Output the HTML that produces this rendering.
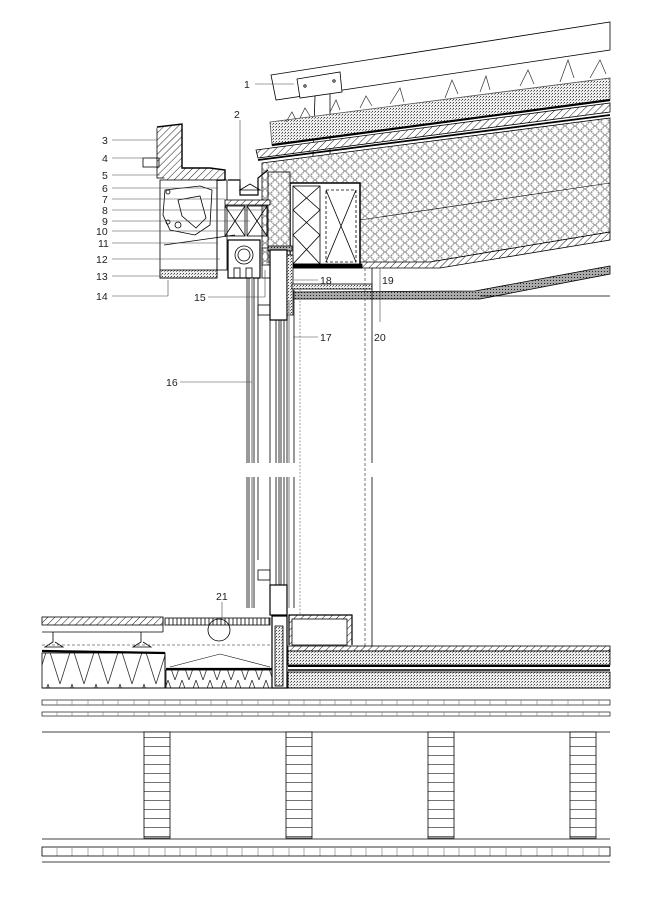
<!DOCTYPE html>
<html><head><meta charset="utf-8"><style>
html,body{margin:0;padding:0;background:#fff}
svg{display:block}
text{font-family:"Liberation Sans",sans-serif;font-size:10.5px;fill:#222}
</style></head><body>
<svg width="651" height="900" viewBox="0 0 651 900" xmlns="http://www.w3.org/2000/svg">
<defs>
<pattern id="h" width="5" height="5" patternUnits="userSpaceOnUse" patternTransform="rotate(45)"><rect width="5" height="5" fill="#fff"/><line x1="0" y1="0" x2="0" y2="5" stroke="#000" stroke-width="0.9"/></pattern>
<pattern id="d" width="3" height="3" patternUnits="userSpaceOnUse"><rect width="3" height="3" fill="#eee"/><rect x="0" y="0" width="1" height="1" fill="#444"/><rect x="2" y="1" width="1" height="1" fill="#888"/></pattern>
<pattern id="dd" width="3" height="3" patternUnits="userSpaceOnUse"><rect width="3" height="3" fill="#aaa"/><rect x="1" y="1" width="1" height="1" fill="#222"/></pattern>
<pattern id="hex" width="10" height="9" patternUnits="userSpaceOnUse"><rect width="10" height="9" fill="#fff"/><circle cx="5" cy="4.5" r="4" fill="none" stroke="#777" stroke-width="0.5"/><circle cx="0" cy="0" r="4" fill="none" stroke="#777" stroke-width="0.5"/><circle cx="10" cy="0" r="4" fill="none" stroke="#777" stroke-width="0.5"/><circle cx="0" cy="9" r="4" fill="none" stroke="#777" stroke-width="0.5"/><circle cx="10" cy="9" r="4" fill="none" stroke="#777" stroke-width="0.5"/></pattern>
<pattern id="zig" width="24" height="38" patternUnits="userSpaceOnUse"><rect width="24" height="38" fill="#fff"/><polyline points="0,0 12,38 24,0" fill="none" stroke="#333" stroke-width="0.8"/></pattern>
<pattern id="zig2" width="14" height="20" patternUnits="userSpaceOnUse"><rect width="14" height="20" fill="#fff"/><polyline points="0,0 7,20 14,0" fill="none" stroke="#333" stroke-width="0.8"/></pattern>
<pattern id="grate" width="4" height="8" patternUnits="userSpaceOnUse"><rect width="4" height="8" fill="#fff"/><line x1="1" y1="0" x2="1" y2="8" stroke="#333" stroke-width="1"/></pattern>
<pattern id="brick" width="27" height="9" patternUnits="userSpaceOnUse"><rect width="27" height="9" fill="#fff"/><line x1="0" y1="8.5" x2="27" y2="8.5" stroke="#444" stroke-width="0.8"/></pattern>
</defs>
<g fill="none" stroke="#000" stroke-width="0.8">
<polygon points="271,75 610,22 610,50 276,100" fill="#fff"/>
<polygon points="297,79 340,72 342,92 300,98" fill="#fff"/>
<circle cx="305" cy="86" r="1.2"/><circle cx="334" cy="81" r="1.2"/>
<line x1="315" y1="96" x2="312" y2="185"/><line x1="330" y1="94" x2="330" y2="185"/>
<polygon points="270,122 610,78 610,100 272,145" fill="url(#d)" stroke="#555"/>
<line x1="272" y1="145" x2="610" y2="100" stroke-width="2.2"/>
<g stroke="#333" stroke-width="0.7">
<polyline points="286,122 292,112 296,120"/><polyline points="300,118 305,108 310,116"/><polyline points="330,112 336,100 340,110"/>
<polyline points="360,108 366,96 372,106"/><polyline points="390,104 400,88 404,102"/><polyline points="445,98 452,80 458,94"/>
<polyline points="480,92 486,76 490,90"/><polyline points="520,86 528,70 534,84"/><polyline points="560,82 568,60 574,78"/><polyline points="590,78 600,60 606,74"/>
</g>
<polygon points="256,150 610,103 610,112 258,158" fill="url(#h)"/>
<line x1="258" y1="160" x2="610" y2="115" stroke-width="1.8"/>
<polygon points="262,163 610,118 610,232 430,262 290,265 262,265" fill="url(#hex)"/>
<polygon points="430,262 610,232 610,240 440,268 292,268 292,262" fill="url(#h)"/>
<line x1="360" y1="220" x2="610" y2="183" stroke-width="0.6"/>
<polygon points="292,292 475,291 610,266 610,274 480,299 292,299" fill="url(#dd)"/>
<line x1="480" y1="296" x2="610" y2="296"/>
<rect x="290" y="183" width="70" height="84" fill="#fff" stroke-width="1.5"/>
<rect x="293" y="186" width="27" height="78" fill="#fff"/>
<polyline points="293,186 320,210 293,235 320,264"/><polyline points="320,186 293,210 320,235 293,264"/>
<rect x="326" y="190" width="30" height="72" stroke-dasharray="3,2"/>
<line x1="326" y1="190" x2="356" y2="262"/><line x1="356" y1="190" x2="326" y2="262"/>
<rect x="290" y="264" width="72" height="4" fill="#000"/>
<rect x="268" y="172" width="22" height="90" fill="url(#hex)"/>
<rect x="157" y="128" width="8" height="50" fill="url(#h)"/>
<rect x="166" y="126" width="12" height="52" fill="url(#d)"/>
<polyline points="157,127 182,124 182,168 210,168 225,170 225,180 165,182" fill="url(#h)" stroke-width="1.4"/>
<rect x="143" y="158" width="16" height="9"/>
<rect x="160" y="180" width="57" height="98" fill="#fff"/>
<path d="M165,190 L200,186 L212,190 L210,225 L195,235 L170,230 L163,215 Z" />
<path d="M178,200 L200,196 L206,218 L196,228 L182,216 Z"/>
<circle cx="168" cy="192" r="2"/><circle cx="168" cy="222" r="2"/><circle cx="178" cy="225" r="3"/>
<rect x="160" y="270" width="57" height="8" fill="url(#d)"/>
<line x1="164" y1="245" x2="235" y2="235"/>
<rect x="217" y="180" width="10" height="90"/>
<polyline points="228,180 240,180 240,195 258,195 258,178 268,170" stroke-width="1.2"/>
<polygon points="240,190 250,184 260,190" />
<rect x="225" y="200" width="45" height="5" fill="url(#h)"/>
<rect x="225" y="206" width="20" height="30"/><line x1="225" y1="206" x2="245" y2="236"/><line x1="245" y1="206" x2="225" y2="236"/>
<rect x="247" y="206" width="20" height="30"/><line x1="247" y1="206" x2="267" y2="236"/><line x1="267" y1="206" x2="247" y2="236"/>
<rect x="228" y="240" width="32" height="38" fill="#fff" stroke-width="1.2"/>
<circle cx="244" cy="255" r="9"/><circle cx="244" cy="255" r="6"/>
<rect x="234" y="268" width="6" height="10"/><rect x="246" y="268" width="6" height="10"/>
<rect x="262" y="248" width="8" height="30"/>
<rect x="268" y="246" width="24" height="5" fill="url(#dd)"/>
<rect x="270" y="250" width="17" height="70" fill="#fff" stroke-width="1.2"/>
<rect x="287" y="255" width="6" height="60" fill="url(#d)"/>
<rect x="292" y="284" width="80" height="5" fill="url(#d)"/>
<rect x="258" y="305" width="12" height="10"/>
<g stroke-width="0.8">
<line x1="247" y1="278" x2="247" y2="463"/><line x1="247" y1="477" x2="247" y2="608"/>
<line x1="249" y1="278" x2="249" y2="463"/><line x1="249" y1="477" x2="249" y2="608"/>
<line x1="252" y1="278" x2="252" y2="463" stroke="#999" stroke-width="1.5"/><line x1="252" y1="477" x2="252" y2="608" stroke="#999" stroke-width="1.5"/>
<line x1="254" y1="278" x2="254" y2="463"/><line x1="254" y1="477" x2="254" y2="608"/>
<line x1="258" y1="278" x2="258" y2="463"/><line x1="258" y1="477" x2="258" y2="560"/>
<line x1="270" y1="320" x2="270" y2="463"/><line x1="270" y1="477" x2="270" y2="608"/>
<line x1="276" y1="320" x2="276" y2="463"/><line x1="276" y1="477" x2="276" y2="585"/>
<line x1="279" y1="320" x2="279" y2="463"/><line x1="279" y1="477" x2="279" y2="585"/>
<line x1="281" y1="320" x2="281" y2="463"/><line x1="281" y1="477" x2="281" y2="585"/>
<line x1="284" y1="320" x2="284" y2="463"/><line x1="284" y1="477" x2="284" y2="585"/>
<line x1="287" y1="300" x2="287" y2="463"/><line x1="287" y1="477" x2="287" y2="608"/>
<line x1="289" y1="300" x2="289" y2="463" stroke="#999" stroke-width="1.3"/><line x1="289" y1="477" x2="289" y2="608" stroke="#999" stroke-width="1.3"/>
<line x1="294" y1="290" x2="294" y2="463"/><line x1="294" y1="477" x2="294" y2="608"/>
<line x1="300" y1="290" x2="300" y2="646" stroke="#888" stroke-dasharray="2,1.5"/>
<line x1="365" y1="268" x2="365" y2="646" stroke="#555" stroke-dasharray="3,2"/>
<line x1="372" y1="268" x2="372" y2="463"/><line x1="372" y1="477" x2="372" y2="646"/>
</g>
<rect x="258" y="570" width="12" height="10"/>
<rect x="270" y="585" width="17" height="30" fill="#fff" stroke-width="1.2"/>
<rect x="42" y="617" width="121" height="8" fill="url(#h)"/>
<line x1="42" y1="632" x2="163" y2="632"/><line x1="163" y1="617" x2="163" y2="632"/>
<rect x="165" y="618" width="105" height="7" fill="url(#grate)"/>
<circle cx="219" cy="630" r="11" fill="none"/>
<path d="M53,632 v10 l-8,5 h18 l-8,-5" /><path d="M141,632 v10 l-8,5 h18 l-8,-5"/>
<line x1="42" y1="645" x2="270" y2="645" stroke-dasharray="3,2" stroke="#666"/>
<rect x="42" y="653" width="123" height="35" fill="url(#zig)"/>
<line x1="42" y1="651" x2="165" y2="653" stroke-width="2.2"/>
<rect x="166" y="670" width="106" height="18" fill="url(#zig2)"/>
<line x1="166" y1="669" x2="272" y2="669" stroke-width="2.2"/>
<polyline points="170,667 220,654 270,667" stroke-width="0.6"/>
<line x1="165" y1="653" x2="165" y2="688"/>
<rect x="272" y="616" width="15" height="72" fill="#fff" stroke-width="1.2"/>
<rect x="275" y="626" width="8" height="60" fill="url(#d)"/>
<polyline points="289,645 289,615 352,615 352,645" fill="url(#h)" stroke-width="1.2"/>
<rect x="292" y="619" width="55" height="26" fill="#fff"/>
<rect x="288" y="646" width="322" height="5" fill="url(#h)"/>
<rect x="288" y="651" width="322" height="14" fill="url(#d)"/>
<line x1="288" y1="666" x2="610" y2="666" stroke-width="2"/>
<line x1="288" y1="670" x2="610" y2="670" stroke-width="1.5"/>
<rect x="288" y="672" width="322" height="16" fill="url(#d)"/>
<line x1="42" y1="688" x2="610" y2="688" stroke-width="1"/>
<rect x="42" y="700" width="568" height="5" fill="none" stroke="#333"/>
<rect x="42" y="712" width="568" height="4" fill="none" stroke="#333"/>
<g stroke="#777" stroke-width="0.6">
<path d="M57,700v5M72,700v5M88,700v5M103,700v5M118,700v5M134,700v5M149,700v5M165,700v5M180,700v5M196,700v5M211,700v5M227,700v5M242,700v5M258,700v5M273,700v5M289,700v5M304,700v5M320,700v5M335,700v5M351,700v5M366,700v5M382,700v5M397,700v5M413,700v5M428,700v5M444,700v5M459,700v5M475,700v5M490,700v5M506,700v5M521,700v5M537,700v5M552,700v5M568,700v5M583,700v5M599,700v5"/>
<path d="M57,712v4M72,712v4M88,712v4M103,712v4M118,712v4M134,712v4M149,712v4M165,712v4M180,712v4M196,712v4M211,712v4M227,712v4M242,712v4M258,712v4M273,712v4M289,712v4M304,712v4M320,712v4M335,712v4M351,712v4M366,712v4M382,712v4M397,712v4M413,712v4M428,712v4M444,712v4M459,712v4M475,712v4M490,712v4M506,712v4M521,712v4M537,712v4M552,712v4M568,712v4M583,712v4M599,712v4"/>
<path d="M57,848v8M72,848v8M88,848v8M103,848v8M118,848v8M134,848v8M149,848v8M165,848v8M180,848v8M196,848v8M211,848v8M227,848v8M242,848v8M258,848v8M273,848v8M289,848v8M304,848v8M320,848v8M335,848v8M351,848v8M366,848v8M382,848v8M397,848v8M413,848v8M428,848v8M444,848v8M459,848v8M475,848v8M490,848v8M506,848v8M521,848v8M537,848v8M552,848v8M568,848v8M583,848v8M599,848v8"/>
</g>
<line x1="42" y1="732" x2="610" y2="732"/>
<rect x="144" y="732" width="26" height="106" fill="url(#brick)"/>
<rect x="286" y="732" width="26" height="106" fill="url(#brick)"/>
<rect x="428" y="732" width="26" height="106" fill="url(#brick)"/>
<rect x="570" y="732" width="26" height="106" fill="url(#brick)"/>
<line x1="42" y1="839" x2="610" y2="839"/>
<rect x="42" y="847" width="568" height="9"/>
<line x1="42" y1="862" x2="610" y2="862"/>
<g stroke="#444" stroke-width="0.6">
<line x1="255" y1="84" x2="294" y2="84"/>
<line x1="240" y1="120" x2="240" y2="185"/>
<line x1="112" y1="140" x2="157" y2="140"/><line x1="112" y1="158" x2="148" y2="158"/><line x1="112" y1="175" x2="160" y2="175"/>
<line x1="112" y1="188" x2="218" y2="188"/><line x1="112" y1="199" x2="225" y2="199"/><line x1="112" y1="210" x2="265" y2="210"/>
<line x1="112" y1="221" x2="250" y2="221"/><line x1="112" y1="231" x2="225" y2="231"/><line x1="112" y1="243" x2="218" y2="243"/>
<line x1="112" y1="259" x2="220" y2="259"/><line x1="112" y1="276" x2="162" y2="276"/>
<line x1="112" y1="296" x2="168" y2="296"/><line x1="168" y1="296" x2="168" y2="280"/>
<line x1="208" y1="297" x2="265" y2="297"/><line x1="265" y1="297" x2="265" y2="270"/>
<line x1="180" y1="382" x2="252" y2="382"/>
<line x1="293" y1="337" x2="318" y2="337"/>
<line x1="294" y1="280" x2="318" y2="280"/>
<line x1="380" y1="268" x2="380" y2="322"/>
<line x1="222" y1="602" x2="222" y2="620"/>
</g>
</g>
<text x="244" y="88">1</text>
<text x="234" y="118">2</text>
<text x="102" y="144">3</text><text x="102" y="162">4</text><text x="102" y="179">5</text>
<text x="102" y="192">6</text><text x="102" y="203">7</text><text x="102" y="214">8</text>
<text x="102" y="225">9</text><text x="96" y="235">10</text><text x="98" y="247">11</text>
<text x="96" y="263">12</text><text x="96" y="280">13</text><text x="96" y="300">14</text>
<text x="194" y="301">15</text><text x="166" y="386">16</text><text x="320" y="341">17</text>
<text x="320" y="284">18</text><text x="382" y="284">19</text><text x="374" y="341">20</text>
<text x="216" y="600">21</text>
</svg>
</body></html>
